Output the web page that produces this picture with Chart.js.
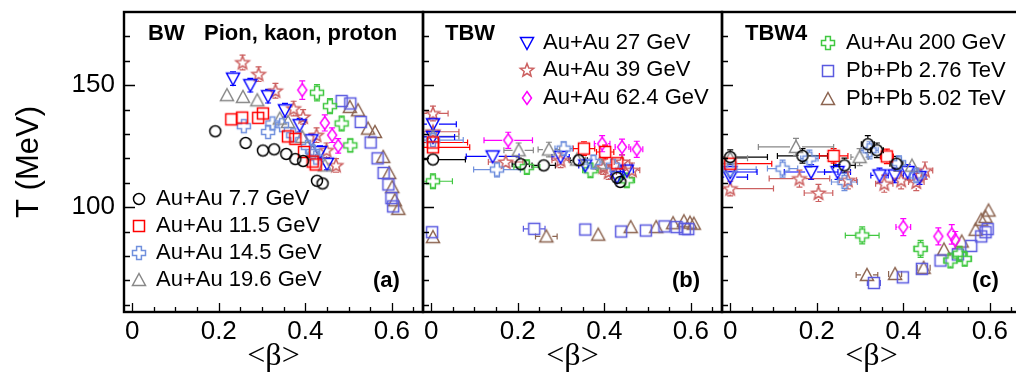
<!DOCTYPE html>
<html>
<head>
<meta charset="utf-8">
<script src="https://cdn.jsdelivr.net/npm/chart.js@4.4.1/dist/chart.umd.min.js"></script>
<style>
body { margin: 0; background: #fff; overflow: hidden; width: 1016px; height: 377px; position: relative; }
canvas { position: absolute; top: 0; }
#chartA { left: 0; }
#chartB { left: 413px; }
#chartC { left: 712px; }
</style>
</head>
<body>
<canvas id="chartA" width="434" height="377"></canvas>
<canvas id="chartB" width="319" height="377"></canvas>
<canvas id="chartC" width="319" height="377"></canvas>
<script>
// each point: [<beta>, T (MeV), x error, y error]
// panel (a) BW
var bw77  = [[0.192,131.1,0.012,1.2],[0.262,126.3,0,0.8],[0.302,123.2,0,0.8],[0.328,123.7,0,0.8],[0.356,121.8,0,0.8],[0.377,119.7,0,0.8],[0.395,118.9,0,0.8],[0.427,110.8,0,0.8],[0.44,109.7,0,0.8]];
var bw115 = [[0.229,136.0,0,1],[0.254,136.7,0,1],[0.291,136.6,0,1],[0.302,138.4,0,1],[0.360,129.0,0,1],[0.377,128.0,0,1],[0.397,122.6,0,1],[0.417,118.7,0,1],[0.424,117.5,0,1]];
var bw145 = [[0.258,133.2,0,1.2],[0.314,130.8,0,1],[0.324,134.3,0,1],[0.346,133.6,0,1],[0.372,129.5,0,1],[0.406,124.7,0,1],[0.418,122.6,0,1],[0.425,120.3,0,1]];
var bw196 = [[0.219,145.9,0,1],[0.256,145.2,0,1],[0.289,143.8,0,1],[0.341,136.3,0,1],[0.360,134.9,0,1],[0.393,128.8,0,1],[0.417,123.0,0,1],[0.445,117.1,0,1]];
var bw27  = [[0.233,152.7,0,2.8],[0.273,150.0,0,2.8],[0.314,145.5,0,2.8],[0.353,139.7,0,2.8],[0.387,133.6,0,2.8],[0.414,127.4,0,2.5],[0.434,122.6,0,2.5],[0.450,117.8,0,2.5]];
var bw39  = [[0.255,159.3,0,3],[0.292,154.5,0,3],[0.331,147.7,0,3],[0.373,140.4,0,3],[0.395,137.0,0,3],[0.426,129.5,0,3],[0.449,123.3,0,3],[0.471,117.1,0,2.8]];
var bw624 = [[0.393,148.0,0,3.8],[0.445,134.5,0,3.3],[0.462,129.5,0,3],[0.476,125.1,0,3]];
var bw200 = [[0.427,146.9,0,3.3],[0.457,141.4,0,3.1],[0.484,134.3,0,3],[0.504,125.3,0,2.6]];
var bw276 = [[0.484,143.5,0,0.5],[0.504,142.5,0,0.5],[0.528,134.9,0,0.5],[0.551,126.5,0,0.5],[0.567,120.0,0,0.5],[0.581,114.0,0,0.5],[0.592,109.3,0,0.5],[0.599,103.7,0,0.5],[0.603,100.3,0,0.5]];
var bw502 = [[0.503,141.1,0,0.5],[0.522,139.7,0,0.5],[0.545,132.2,0,0.5],[0.561,130.8,0,0.5],[0.58,120.6,0,0.5],[0.594,114.0,0,0.5],[0.601,108.2,0,0.5],[0.607,102.8,0,0.5],[0.615,99.3,0,0.5]];

// panel (b) TBW
var tbw77  = [[0.004,119.5,0.075,1],[0.207,117.6,0.02,1],[0.26,117.1,0.027,1],[0.341,119.2,0.02,1],[0.43,112,0.01,1],[0.437,110.3,0.01,1]];
var tbw115 = [[0.004,126.5,0.08,1],[0.004,124.5,0.085,1],[0.353,124.0,0.025,2.8],[0.402,122.6,0.02,2.8],[0.43,118,0.01,1]];
var tbw145 = [[0.004,127.5,0.07,1],[0.152,115.4,0.054,3],[0.306,124.0,0.02,2.8],[0.375,118.5,0.02,2.8],[0.42,117,0.01,1]];
var tbw196 = [[0.004,129,0.06,1],[0.202,123.3,0.034,3],[0.272,123.6,0.025,3],[0.337,119.5,0.02,1],[0.39,118,0.01,1]];
var tbw27  = [[0.004,134.0,0.054,1],[0.004,128.8,0.05,1],[0.142,120.8,0.061,1],[0.299,120.6,0.02,1],[0.356,117.1,0.015,1],[0.429,112.3,0.015,1],[0.452,115,0.015,1]];
var tbw39  = [[0.004,138.4,0.035,3],[0.004,130.9,0.06,1.2],[0.172,118.5,0.04,1.2],[0.299,119.2,0.02,3],[0.398,116.4,0.018,3],[0.41,114.4,0.018,3],[0.441,118.5,0.018,3],[0.464,115.1,0.018,3]];
var tbw624 = [[0.178,127.4,0.056,3.3],[0.395,126.0,0.018,3.3],[0.441,124.6,0.016,3.3],[0.475,123.7,0.014,3.3]];
var tbw200 = [[0.004,110.6,0.045,3],[0.221,116.4,0.03,3],[0.368,115.1,0.018,3],[0.452,111.0,0.018,3]];
var tbw276 = [[0.002,89.7,0,0.5],[0.238,91.1,0.025,0.5],[0.356,90.8,0,0.5],[0.439,90.0,0,0.5],[0.496,90.4,0,0.5],[0.539,92.1,0,0.5],[0.567,91.8,0,0.5],[0.586,91.1,0,0.5],[0.594,91,0,0.5]];
var tbw502 = [[0.004,87.7,0,0.5],[0.266,88.0,0.025,0.5],[0.386,88.7,0,0.5],[0.461,91.8,0,0.5],[0.52,91.8,0,0.5],[0.559,93.4,0,0.5],[0.584,94.2,0,0.5],[0.598,93.6,0,0.5],[0.607,93.2,0,0.5]];

// panel (c) TBW4
var tbw4_77  = [[0,120.5,0.086,3],[0.167,121.0,0.058,3],[0.264,117.1,0.025,3],[0.318,125.8,0.015,3.5],[0.339,123.3,0.015,3],[0.384,117.8,0.015,3]];
var tbw4_115 = [[0,117.8,0.096,1],[0.239,121.0,0.033,3],[0.362,120.8,0.015,3]];
var tbw4_145 = [[0,115.5,0.06,1],[0.121,115.8,0.035,3.5],[0.183,119.9,0.02,3.5],[0.264,110.3,0.03,3.5],[0.322,123.3,0.02,3.5],[0.39,118,0.015,3],[0.43,113,0.015,3]];
var tbw4_196 = [[0,120,0.04,1],[0.152,124.7,0.087,3.5],[0.299,120.5,0.02,3.5],[0.42,117,0.01,1]];
var tbw4_27  = [[0,114.4,0.062,1],[0,112.3,0.04,1],[0.187,114.4,0.062,3],[0.248,114.4,0.03,3],[0.345,113.0,0.02,3],[0.38,113.0,0.02,3],[0.41,114.4,0.015,3],[0.4375,112.3,0.015,3]];
var tbw4_39  = [[0,107.6,0.1,3],[0.16,111.7,0.07,3.5],[0.204,105.8,0.033,3.5],[0.272,111.0,0.02,3.5],[0.356,109.6,0.02,3.5],[0.395,111.0,0.02,3.5],[0.43,110.3,0.018,3.5],[0.45,115,0.018,3.5]];
var tbw4_624 = [[0.4,91.8,0.017,3.5],[0.481,88.0,0.012,3.5],[0.512,88.8,0.012,4],[0.52,86.5,0.012,3.5]];
var tbw4_200 = [[0.305,88.4,0.039,3.5],[0.44,82.9,0.015,3.5],[0.509,78.1,0.015,3],[0.53,80.9,0.015,3],[0.542,78.8,0.015,3]];
var tbw4_276 = [[0.332,68.9,0.015,0.5],[0.399,71.2,0,0.5],[0.443,74.7,0,0.5],[0.486,78.1,0,0.5],[0.526,80.6,0,0.5],[0.557,84.1,0,0.5],[0.58,88.0,0,0.5],[0.59,89.7,0,0.5],[0.595,91,0,0.5]];
var tbw4_502 = [[0.316,72.2,0.025,1],[0.381,72.6,0.015,1],[0.447,75.1,0.015,1],[0.494,82.6,0,1],[0.535,85.9,0,1],[0.567,90.7,0,1],[0.58,94.8,0,1],[0.59,96,0,1],[0.597,98.6,0,1]];

var seriesLabels = ['Au+Au 7.7 GeV','Au+Au 11.5 GeV','Au+Au 14.5 GeV','Au+Au 19.6 GeV','Au+Au 27 GeV','Au+Au 39 GeV','Au+Au 62.4 GeV','Au+Au 200 GeV','Pb+Pb 2.76 TeV','Pb+Pb 5.02 TeV'];
var seriesColors = ['#000000','#ff0000','#7090dd','#888888','#0000ff','#cc6060','#ff00ff','#40c840','#5a5ae0','#8c6450'];
var seriesShapes = ['circle','square','cross','triUp','triDown','star','diamond','cross','square','triUp'];
var yTickLabels = [100, 150];
var xTickLabels = [0, 0.2, 0.4, 0.6];

var FONT = '"Liberation Sans", Arial, Helvetica, sans-serif';
var MARK_R = 6; // error bars start outside the marker, as ROOT draws them

function markerImage(shape, color) {
    var s = 20, m = 10;
    var c = document.createElement('canvas');
    c.width = s; c.height = s;
    var g = c.getContext('2d');
    g.strokeStyle = color;
    g.lineWidth = 1.5;
    g.beginPath();
    if (shape == 'circle') {
        g.arc(m, m, 5.5, 0, Math.PI * 2);
    } else if (shape == 'square') {
        g.rect(m - 5.5, m - 5.5, 11, 11);
    } else if (shape == 'triUp') {
        g.moveTo(m, m - 6.5); g.lineTo(m + 6.5, m + 5.5); g.lineTo(m - 6.5, m + 5.5); g.closePath();
    } else if (shape == 'triDown') {
        g.moveTo(m - 6.5, m - 5.5); g.lineTo(m + 6.5, m - 5.5); g.lineTo(m, m + 6.5); g.closePath();
    } else if (shape == 'diamond') {
        g.moveTo(m, m - 6.5); g.lineTo(m + 4.5, m); g.lineTo(m, m + 6.5); g.lineTo(m - 4.5, m); g.closePath();
    } else if (shape == 'cross') {
        var a = 2.4, r = 6.5;
        var pts = [[-a,-r],[a,-r],[a,-a],[r,-a],[r,a],[a,a],[a,r],[-a,r],[-a,a],[-r,a],[-r,-a],[-a,-a]];
        pts.forEach(function (p, i) { if (i == 0) g.moveTo(m + p[0], m + p[1]); else g.lineTo(m + p[0], m + p[1]); });
        g.closePath();
    } else if (shape == 'star') {
        for (var i = 0; i < 10; i++) {
            var ang = -Math.PI / 2 + i * Math.PI / 5;
            var rr = i % 2 ? 3 : 7;
            var px = m + rr * Math.cos(ang), py = m + 0.5 + rr * Math.sin(ang);
            if (i == 0) g.moveTo(px, py); else g.lineTo(px, py);
        }
        g.closePath();
    }
    g.stroke();
    return c;
}

var markers = seriesShapes.map(function (sh, i) { return markerImage(sh, seriesColors[i]); });

function makeDatasets(arrays) {
    return arrays.map(function (arr, i) {
        return {
            label: seriesLabels[i],
            data: arr.map(function (p) { return {x: p[0], y: p[1], ex: p[2], ey: p[3]}; }),
            pointStyle: markers[i],
            errColor: seriesColors[i],
            showLine: false
        };
    });
}

var errorBars = {
    id: 'errorBars',
    beforeDatasetsDraw: function (chart) {
        var ctx = chart.ctx, a = chart.chartArea, xs = chart.scales.x, ys = chart.scales.y;
        ctx.save();
        ctx.beginPath();
        ctx.rect(a.left, a.top, a.right - a.left, a.bottom - a.top);
        ctx.clip();
        ctx.lineWidth = 1.2;
        chart.data.datasets.forEach(function (ds) {
            ctx.strokeStyle = ds.errColor;
            ds.data.forEach(function (p) {
                var px = xs.getPixelForValue(p.x), py = ys.getPixelForValue(p.y);
                ctx.beginPath();
                if (p.ex) {
                    var x0 = xs.getPixelForValue(p.x - p.ex), x1 = xs.getPixelForValue(p.x + p.ex);
                    if (px - x0 > MARK_R) {
                        ctx.moveTo(x0, py); ctx.lineTo(px - MARK_R, py);
                        ctx.moveTo(px + MARK_R, py); ctx.lineTo(x1, py);
                        ctx.moveTo(x0, py - 3); ctx.lineTo(x0, py + 3);
                        ctx.moveTo(x1, py - 3); ctx.lineTo(x1, py + 3);
                    }
                }
                if (p.ey) {
                    var y0 = ys.getPixelForValue(p.y - p.ey), y1 = ys.getPixelForValue(p.y + p.ey);
                    if (y0 - py > MARK_R) {
                        ctx.moveTo(px, y0); ctx.lineTo(px, py + MARK_R);
                        ctx.moveTo(px, py - MARK_R); ctx.lineTo(px, y1);
                        ctx.moveTo(px - 3, y0); ctx.lineTo(px + 3, y0);
                        ctx.moveTo(px - 3, y1); ctx.lineTo(px + 3, y1);
                    }
                }
                ctx.stroke();
            });
        });
        ctx.restore();
    }
};

// frame, inward ticks, panel texts and legends
var decor = {
    id: 'decor',
    afterDraw: function (chart, args, opts) {
        var ctx = chart.ctx, a = chart.chartArea, xs = chart.scales.x, ys = chart.scales.y;
        ctx.save();
        ctx.strokeStyle = '#000';
        ctx.lineWidth = 1.3;
        ctx.beginPath();
        ys.ticks.forEach(function (t) {
            if (t.value <= ys.min || t.value >= ys.max) return;
            var py = Math.round(ys.getPixelForValue(t.value)) + 0.5;
            var len = t.value % 50 == 0 ? 11 : 6;
            ctx.moveTo(a.left, py); ctx.lineTo(a.left + len, py);
        });
        for (var k = 0; k * 0.05 < xs.max; k++) {
            var px = Math.round(xs.getPixelForValue(k * 0.05)) + 0.5;
            var l = k % 4 == 0 ? 9 : 5;
            ctx.moveTo(px, a.bottom); ctx.lineTo(px, a.bottom - l);
        }
        ctx.stroke();
        ctx.lineWidth = 2.4;
        ctx.strokeRect(a.left, a.top, a.right - a.left, a.bottom - a.top);

        ctx.fillStyle = '#000';
        ctx.textBaseline = 'middle';
        ctx.font = 'bold 22px ' + FONT;
        (opts.tags || []).forEach(function (t) { ctx.fillText(t[0], a.left + t[1], t[2]); });

        ctx.font = '22px ' + FONT;
        (opts.legend || []).forEach(function (item) {
            var img = markers[item[0]];
            ctx.drawImage(img, a.left + item[1] - 10, item[3] - 10);
            ctx.fillText(seriesLabels[item[0]], a.left + item[2], item[3]);
        });
        ctx.restore();
    }
};

function panelOptions(showY, decorOpts) {
    return {
        responsive: false,
        animation: false,
        events: [],
        layout: { padding: { top: 12, bottom: 0, left: showY ? 0 : 10, right: showY ? 11 : 10 } },
        scales: {
            x: {
                type: 'linear',
                min: -0.019,
                max: 0.672,
                grid: { display: false, drawTicks: false },
                border: { display: false },
                afterFit: function (s) { s.height = 65; s.paddingLeft = 0; s.paddingRight = 0; },
                ticks: {
                    stepSize: 0.2,
                    includeBounds: false,
                    autoSkip: false,
                    padding: 4,
                    color: '#000',
                    font: { family: FONT, size: 26 },
                    maxRotation: 0,
                    callback: function (v) {
                        var hit = xTickLabels.find(function (t) { return Math.abs(t - v) < 1e-6; });
                        return hit === undefined ? '' : String(hit);
                    }
                },
                title: {
                    display: true,
                    text: '<β>',
                    color: '#000',
                    font: { family: '"Liberation Serif", "DejaVu Serif", serif', size: 32, lineHeight: 1 },
                    padding: { top: 0, bottom: 4 }
                }
            },
            y: {
                type: 'linear',
                display: showY,
                min: 57,
                max: 180,
                grid: { display: false, drawTicks: false },
                border: { display: false },
                afterFit: function (s) { s.width = showY ? 124 : 0; s.paddingTop = 0; s.paddingBottom = 0; },
                ticks: {
                    stepSize: 10,
                    includeBounds: false,
                    autoSkip: false,
                    padding: 9,
                    color: '#000',
                    font: { family: FONT, size: 26 },
                    callback: function (v) { return yTickLabels.indexOf(v) >= 0 ? String(v) : ''; }
                },
                title: {
                    display: true,
                    text: 'T (MeV)',
                    color: '#000',
                    font: { family: FONT, size: 31, lineHeight: 1 },
                    padding: { top: 14, bottom: 0 }
                }
            }
        },
        plugins: {
            legend: { display: false },
            tooltip: { enabled: false },
            decor: decorOpts
        }
    };
}

function drawPanel(id, arrays, showY, decorOpts) {
    return new Chart(document.getElementById(id), {
        type: 'scatter',
        data: { datasets: makeDatasets(arrays) },
        options: panelOptions(showY, decorOpts),
        plugins: [errorBars, decor]
    });
}

drawPanel('chartA',
    [bw77, bw115, bw145, bw196, bw27, bw39, bw624, bw200, bw276, bw502], true,
    { tags: [['BW', 24, 34], ['Pion, kaon, proton', 80, 34], ['(a)', 249, 281]],
      legend: [[0, 15, 32, 199], [1, 15, 32, 226], [2, 15, 32, 253], [3, 15, 32, 280]] });

drawPanel('chartB',
    [tbw77, tbw115, tbw145, tbw196, tbw27, tbw39, tbw624, tbw200, tbw276, tbw502], false,
    { tags: [['TBW', 22, 34], ['(b)', 249, 281]],
      legend: [[4, 104, 120, 43], [5, 104, 120, 70], [6, 104, 120, 98]] });

drawPanel('chartC',
    [tbw4_77, tbw4_115, tbw4_145, tbw4_196, tbw4_27, tbw4_39, tbw4_624, tbw4_200, tbw4_276, tbw4_502], false,
    { tags: [['TBW4', 23, 34], ['(c)', 250, 281]],
      legend: [[7, 106, 124, 43], [8, 106, 124, 71], [9, 106, 124, 99]] });
</script>
</body>
</html>
